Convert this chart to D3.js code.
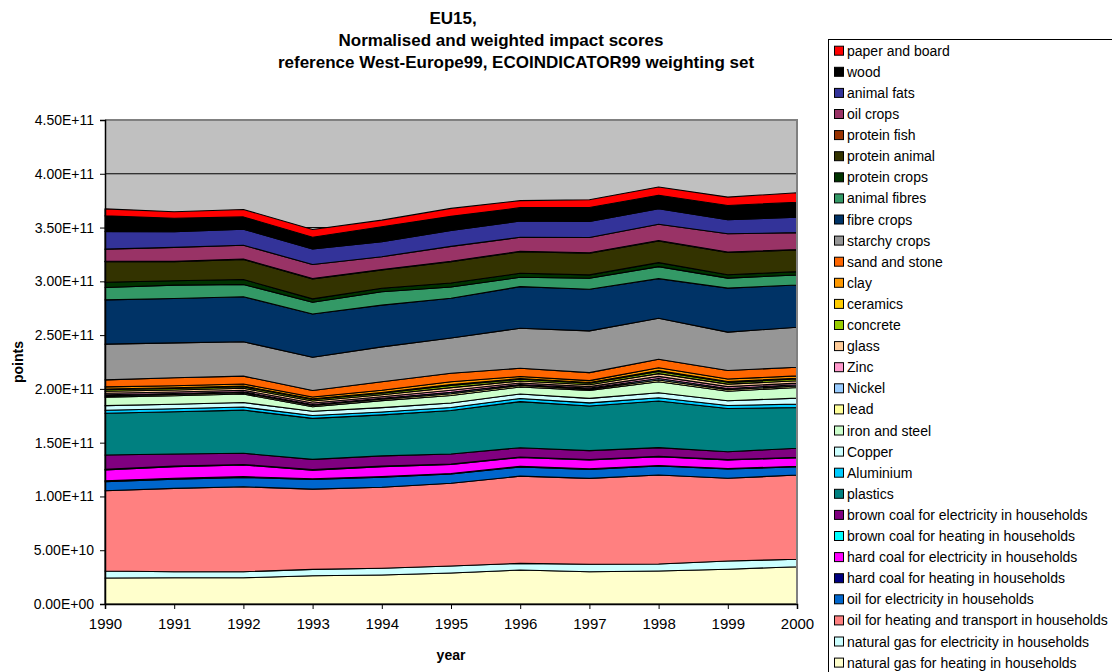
<!DOCTYPE html>
<html>
<head>
<meta charset="utf-8">
<script src="https://cdn.jsdelivr.net/npm/d3@7"></script>
<style>
  body { margin: 0; background: #fff; }
  svg { font-family: Arial, "Liberation Sans", sans-serif; }
</style>
</head>
<body>
<div id="chartContainer"></div>
<script>
// chart values, unit = 1E9 points
var years = [1990, 1991, 1992, 1993, 1994, 1995, 1996, 1997, 1998, 1999, 2000];
var yTicks = [0, 5e10, 1e11, 1.5e11, 2e11, 2.5e11, 3e11, 3.5e11, 4e11, 4.5e11];

var naturalGasHeating   = [24.2, 24.4, 24.4, 26.3, 27.0, 28.8, 31.6, 30.0, 30.7, 32.3, 34.7];
var naturalGasElec      = [6.5, 5.6, 5.6, 5.9, 6.2, 6.5, 6.2, 6.9, 6.5, 7.7, 6.9];
var oilHeatTransport    = [74.6, 77.5, 79.0, 74.6, 75.3, 76.9, 81.1, 79.9, 82.7, 76.9, 78.3];
var oilElec             = [8.4, 8.6, 8.7, 9.0, 9.3, 8.6, 8.6, 8.4, 8.4, 8.6, 7.7];
var hardCoalHeating     = [0.8, 0.8, 0.7, 0.7, 0.6, 0.6, 0.5, 0.5, 0.5, 0.4, 0.4];
var hardCoalElec        = [10.1, 10.7, 10.8, 8.0, 9.3, 8.3, 8.3, 8.2, 8.2, 8.0, 8.0];
var brownCoalHeating    = [0.6, 0.6, 0.5, 0.5, 0.5, 0.4, 0.4, 0.4, 0.3, 0.3, 0.3];
var brownCoalElec       = [13.4, 11.2, 10.4, 9.5, 9.5, 9.4, 8.6, 8.3, 8.1, 7.4, 8.5];
var plastics            = [38.8, 39.3, 40.2, 38.1, 38.1, 40.4, 42.9, 41.5, 43.4, 40.1, 37.9];
var aluminium           = [2.8, 2.8, 2.8, 2.6, 2.7, 2.8, 2.9, 2.9, 3.0, 2.9, 3.1];
var copper              = [4.2, 4.2, 4.2, 4.0, 4.1, 4.2, 4.2, 4.2, 4.6, 4.4, 5.6];
var ironSteel           = [7.9, 7.9, 7.9, 4.2, 6.5, 7.0, 6.5, 7.4, 10.2, 8.8, 9.9];
var lead                = [1.2, 1.2, 1.2, 1.2, 1.2, 1.6, 1.3, 1.2, 1.7, 1.5, 1.4];
var nickel              = [1.0, 0.9, 0.9, 0.9, 1.0, 1.3, 1.0, 0.9, 1.3, 1.1, 1.1];
var zinc                = [1.4, 1.4, 1.4, 1.4, 1.4, 1.9, 1.4, 1.4, 2.0, 1.7, 1.6];
var glass               = [1.9, 1.9, 1.9, 1.8, 1.9, 2.5, 1.9, 1.8, 2.6, 2.3, 2.2];
var concrete            = [1.4, 1.4, 1.4, 1.4, 1.4, 1.9, 1.5, 1.4, 1.9, 1.7, 1.6];
var ceramics            = [0.7, 0.6, 0.6, 0.6, 0.7, 0.9, 0.7, 0.6, 0.9, 0.8, 0.7];
var clay                = [2.0, 1.9, 1.9, 1.8, 2.0, 2.6, 1.9, 1.8, 2.6, 2.3, 2.2];
var sandStone           = [6.5, 7.4, 7.4, 6.0, 7.9, 7.9, 7.7, 7.4, 7.9, 7.9, 8.0];
var starchyCrops        = [33.2, 32.5, 31.9, 30.9, 32.5, 32.8, 37.2, 38.8, 38.1, 35.7, 37.2];
var fibreCrops          = [41.2, 41.3, 41.8, 40.3, 38.8, 36.9, 38.7, 38.8, 36.9, 40.9, 39.3];
var animalFibres        = [11.4, 12.4, 11.5, 10.8, 12.4, 10.5, 8.7, 10.2, 11.2, 9.3, 9.3];
var proteinCrops        = [5.0, 4.0, 4.6, 3.2, 3.2, 3.7, 3.7, 3.1, 3.7, 3.1, 3.1];
var proteinAnimal       = [19.1, 17.7, 18.6, 18.6, 17.0, 19.8, 20.1, 20.2, 20.1, 20.7, 20.2];
var proteinFish         = [0.4, 0.4, 0.4, 0.4, 0.4, 0.4, 0.4, 0.4, 0.4, 0.4, 0.4];
var oilCrops            = [11.2, 13.0, 12.9, 12.9, 12.0, 13.9, 13.0, 14.1, 15.1, 17.0, 15.7];
var animalFats          = [16.4, 14.5, 14.9, 14.6, 13.9, 14.7, 15.1, 14.9, 14.6, 13.0, 14.3];
var wood                = [14.6, 12.5, 11.4, 10.8, 13.9, 13.2, 12.4, 13.0, 12.4, 13.3, 13.9];
var paperBoard          = [6.5, 6.1, 6.9, 7.2, 6.2, 7.4, 6.5, 7.2, 7.7, 7.8, 8.9];

// stack order: bottom first
var seriesNames = [
  "natural gas for heating in households",
  "natural gas for electricity in households",
  "oil for heating and transport in households",
  "oil for electricity in households",
  "hard coal for heating in households",
  "hard coal for electricity in households",
  "brown coal for heating in households",
  "brown coal for electricity in households",
  "plastics", "Aluminium", "Copper", "iron and steel", "lead", "Nickel", "Zinc",
  "glass", "concrete", "ceramics", "clay", "sand and stone", "starchy crops",
  "fibre crops", "animal fibres", "protein crops", "protein animal", "protein fish",
  "oil crops", "animal fats", "wood", "paper and board"
];
var seriesValues = [
  naturalGasHeating, naturalGasElec, oilHeatTransport, oilElec, hardCoalHeating,
  hardCoalElec, brownCoalHeating, brownCoalElec, plastics, aluminium, copper,
  ironSteel, lead, nickel, zinc, glass, concrete, ceramics, clay, sandStone,
  starchyCrops, fibreCrops, animalFibres, proteinCrops, proteinAnimal, proteinFish,
  oilCrops, animalFats, wood, paperBoard
];
var seriesColors = [
  "#FFFFCC", "#CCFFFF", "#FF8080", "#0066CC", "#000080", "#FF00FF", "#00FFFF",
  "#800080", "#008080", "#00CCFF", "#CCFFFF", "#CCFFCC", "#FFFF99", "#99CCFF",
  "#FF99CC", "#FFCC99", "#99CC00", "#FFCC00", "#FF9900", "#FF6600", "#969696",
  "#003366", "#339966", "#003300", "#333300", "#993300", "#993366", "#333399",
  "#000000", "#FF0000"
];

var unit = 1e9;

var config = { left: 105, right: 797, top: 120, bot: 604 };

// build rows for d3.stack
var rows = years.map(function(yr, i) {
  var row = { year: yr };
  seriesNames.forEach(function(name, k) { row[name] = seriesValues[k][i] * unit; });
  return row;
});

var svg = d3.select("#chartContainer").append("svg")
  .attr("width", 1112)
  .attr("height", 672);

var xScale = d3.scaleLinear().domain([1990, 2000]).range([config.left, config.right]);
var yScale = d3.scaleLinear().domain([0, 4.5e11]).range([config.bot, config.top]);

function sciFormat(d) {
  if (d === 0) return "0.00E+00";
  var exp = Math.floor(Math.log10(d));
  var mant = d / Math.pow(10, exp);
  return mant.toFixed(2) + "E+" + (exp < 10 ? "0" + exp : exp);
}

// plot area background
svg.append("rect")
  .attr("x", config.left)
  .attr("y", config.top)
  .attr("width", config.right - config.left)
  .attr("height", config.bot - config.top)
  .style("fill", "#C0C0C0");

// gridlines
svg.append("g").selectAll("line")
  .data(yTicks.slice(1))
  .enter().append("line")
  .attr("x1", config.left).attr("x2", config.right)
  .attr("y1", function(d) { return yScale(d); })
  .attr("y2", function(d) { return yScale(d); })
  .style("stroke", "#000")
  .style("stroke-width", 1);

// stacked areas
var stack = d3.stack().keys(seriesNames);
var layers = stack(rows);

var area = d3.area()
  .x(function(d) { return xScale(d.data.year); })
  .y0(function(d) { return yScale(d[0]); })
  .y1(function(d) { return yScale(d[1]); });

svg.append("g").selectAll("path")
  .data(layers)
  .enter().append("path")
  .attr("d", area)
  .style("fill", function(d, i) { return seriesColors[i]; })
  .style("stroke", "#000")
  .style("stroke-width", 1.1)
  .style("stroke-linejoin", "round");

// plot area border (top + right)
svg.append("path")
  .attr("d", "M" + config.left + "," + config.top + "H" + config.right + "V" + config.bot)
  .style("fill", "none")
  .style("stroke", "#808080")
  .style("stroke-width", 2);

// axes
var yAxis = d3.axisLeft(yScale).tickValues(yTicks).tickFormat(sciFormat).tickSizeOuter(0).tickSize(5).tickPadding(6);
var xAxis = d3.axisBottom(xScale).tickValues(years).tickFormat(d3.format("d")).tickSizeOuter(0).tickSize(5).tickPadding(9);

var gy = svg.append("g")
  .attr("transform", "translate(" + config.left + ",0)")
  .call(yAxis);
gy.selectAll("text").style("font-size", "14px").style("fill", "#000");

var gx = svg.append("g")
  .attr("transform", "translate(0," + config.bot + ")")
  .call(xAxis);
gx.selectAll("text").style("font-size", "15px").style("fill", "#000");

svg.selectAll(".domain").style("stroke", "#000").style("stroke-width", 1.5);
svg.selectAll(".tick line").style("stroke", "#000");

// axis titles
svg.append("text")
  .attr("transform", "translate(23,362) rotate(-90)")
  .attr("text-anchor", "middle")
  .style("font-size", "14px")
  .style("font-weight", "bold")
  .text("points");

svg.append("text")
  .attr("x", 451)
  .attr("y", 660)
  .attr("text-anchor", "middle")
  .style("font-size", "14px")
  .style("font-weight", "bold")
  .text("year");

// title, each line centred where it sits in the original
var titleLines = ["EU15,", "Normalised and weighted impact scores", "reference West-Europe99, ECOINDICATOR99 weighting set"];
var titleCenters = [453, 501, 516];
svg.append("g").selectAll("text")
  .data(titleLines)
  .enter().append("text")
  .attr("x", function(d, i) { return titleCenters[i]; })
  .attr("y", function(d, i) { return 24 + i * 22; })
  .attr("text-anchor", "middle")
  .style("font-size", "17px")
  .style("font-weight", "bold")
  .text(function(d) { return d; });

// legend, top entry = top of the stack
var legend = svg.append("g");
legend.append("rect")
  .attr("x", 828.5)
  .attr("y", 39.5)
  .attr("width", 300)
  .attr("height", 650)
  .style("fill", "#fff")
  .style("stroke", "#000")
  .style("stroke-width", 1);

var legendData = seriesNames.map(function(n, i) { return { name: n, color: seriesColors[i] }; }).reverse();

var item = legend.selectAll(".legItem")
  .data(legendData)
  .enter().append("g")
  .attr("class", "legItem")
  .attr("transform", function(d, i) { return "translate(0," + (50.7 + i * 21.1) + ")"; });

item.append("rect")
  .attr("x", 834.5)
  .attr("y", -4.5)
  .attr("width", 9)
  .attr("height", 9)
  .style("fill", function(d) { return d.color; })
  .style("stroke", "#000")
  .style("stroke-width", 1);

item.append("text")
  .attr("x", 847)
  .attr("y", 5)
  .style("font-size", "14px")
  .text(function(d) { return d.name; });
</script>
</body>
</html>
